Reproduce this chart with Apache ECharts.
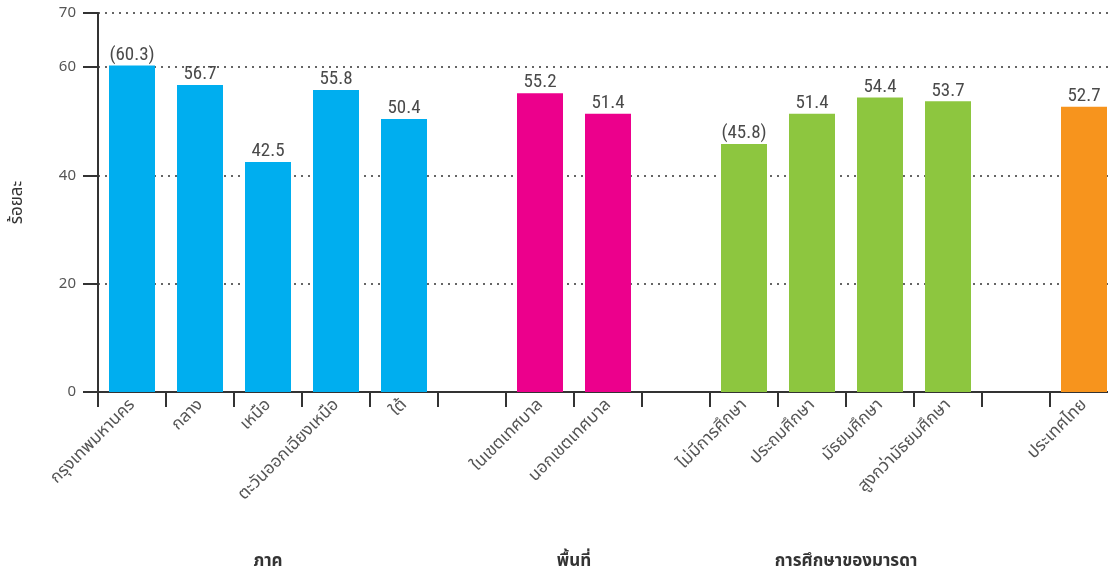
<!DOCTYPE html>
<html>
<head>
<meta charset="utf-8">
<script src="https://cdn.jsdelivr.net/npm/echarts@6/dist/echarts.min.js"></script>
<style>
html,body{margin:0;padding:0;background:#fff;}
#c{width:1108px;height:574px;}
</style>
</head>
<body>
<div id="c"></div>
<script>
var categories = ['กรุงเทพมหานคร','กลาง','เหนือ','ตะวันออกเฉียงเหนือ','ใต้','','ในเขตเทศบาล','นอกเขตเทศบาล','','ไม่มีการศึกษา','ประถมศึกษา','มัธยมศึกษา','สูงกว่ามัธยมศึกษา','','ประเทศไทย'];
var values = [60.3, 56.7, 42.5, 55.8, 50.4, null, 55.2, 51.4, null, 45.8, 51.4, 54.4, 53.7, null, 52.7];
var valueLabels = ['(60.3)','56.7','42.5','55.8','50.4','','55.2','51.4','','(45.8)','51.4','54.4','53.7','','52.7'];
var groups = ['region','region','region','region','region','','area','area','','edu','edu','edu','edu','','country'];
var groupTitles = ['ภาค','พื้นที่','การศึกษาของมารดา'];
var groupRanges = [[0,4],[6,7],[9,12]];
var yTitle = 'ร้อยละ';

var groupColors = {region:'#00AEEF', area:'#EC008C', edu:'#8DC63F', country:'#F7941D'};
var FONT = '"Noto Sans", "Noto Sans Thai", "DejaVu Sans", sans-serif';
var NUMFONT = '"Liberation Sans Narrow", "Roboto Condensed", "Liberation Sans", sans-serif';

var chart = echarts.init(document.getElementById('c'));
var data = values.map(function(v,i){
  if (v === null) return '-';
  return {value: v, itemStyle: {color: groupColors[groups[i]]}};
});

chart.setOption({
  animation: false,
  grid: {left: 98, top: 13, width: 1020, bottom: 182, containLabel: false, outerBoundsMode: 'none'},
  xAxis: {
    type: 'category',
    data: categories,
    boundaryGap: true,
    axisLine: {lineStyle: {color: '#333', width: 2}},
    axisTick: {show: true, alignWithLabel: false, length: 15, lineStyle: {color: '#333', width: 2}},
    axisLabel: {interval: 0, rotate: 45, fontSize: 17, color: '#555', fontFamily: FONT, margin: 10}
  },
  yAxis: {
    type: 'value',
    min: 0, max: 70, interval: 20,
    name: yTitle,
    nameLocation: 'middle',
    nameGap: 72,
    nameRotate: 90,
    nameTextStyle: {fontSize: 17, color: '#333', fontFamily: FONT},
    axisLine: {show: true, lineStyle: {color: '#333', width: 2}},
    axisTick: {show: true, inside: false, length: 15, lineStyle: {color: '#333', width: 2}},
    axisLabel: {fontSize: 15, color: '#555', fontFamily: FONT, margin: 22, showMaxLabel: true},
    splitLine: {show: true, lineStyle: {color: '#333', type: [2, 5], width: 1.6}}
  },
  series: [{
    type: 'bar',
    data: data,
    barWidth: 46,
    label: {
      show: true, position: 'top', distance: 1,
      fontSize: 19, color: '#4a4a4a', fontFamily: NUMFONT, fontWeight: 'normal',
      formatter: function(p){ return valueLabels[p.dataIndex]; }
    }
  }],
  graphic: []
});

var gfx = groupRanges.map(function(r, k){
  var a = chart.convertToPixel({xAxisIndex:0}, r[0]);
  var b = chart.convertToPixel({xAxisIndex:0}, r[1]);
  return {
    type: 'text',
    x: (a + b) / 2, y: 561,
    style: {text: groupTitles[k], font: 'bold 17px ' + FONT, fill: '#333', textAlign: 'center', textVerticalAlign: 'middle'}
  };
});
chart.setOption({graphic: gfx});
</script>
</body>
</html>
